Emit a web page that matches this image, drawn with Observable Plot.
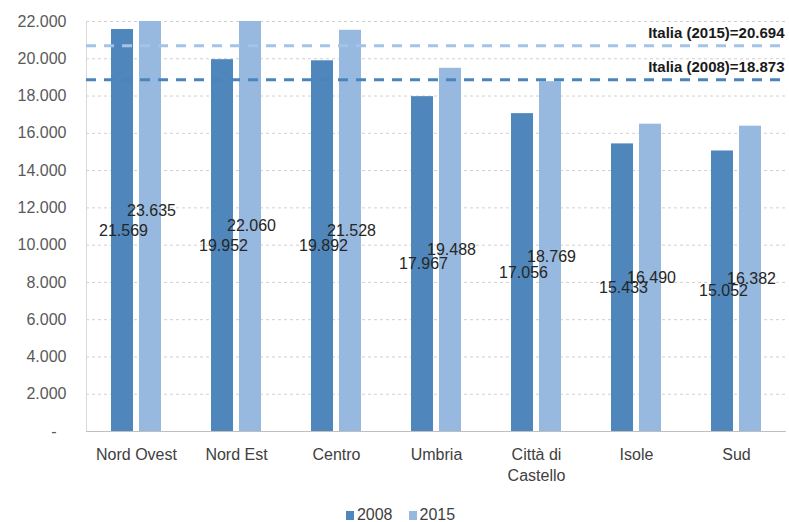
<!DOCTYPE html>
<html>
<head>
<meta charset="utf-8">
<script src="https://cdn.jsdelivr.net/npm/d3@7"></script>
<script src="https://cdn.jsdelivr.net/npm/@observablehq/plot@0.6"></script>
<style>
  html, body { margin: 0; padding: 0; background: #fff; }
  body { width: 789px; height: 522px; overflow: hidden; font-family: "Liberation Sans", sans-serif; }
  #legend { display: flex; justify-content: center; align-items: center; gap: 16px; height: 22px; margin-top: 4px; font-size: 16px; color: #404040; margin-left: 12px; }
  #legend span.sw { display: inline-block; width: 8px; height: 9px; margin-right: 3px; }
  #legend .item { display: flex; align-items: center; }
</style>
</head>
<body>
<div id="chart"></div>
<div id="legend"></div>
<script>
// Reddito medio per area: 2008 e 2015
const areas = ["Nord Ovest", "Nord Est", "Centro", "Umbria", "Città di\nCastello", "Isole", "Sud"];
const values2008 = [21569, 19952, 19892, 17967, 17056, 15433, 15052];
const values2015 = [23635, 22060, 21528, 19488, 18769, 16490, 16382];
const years = ["2008", "2015"];
const italia = [
  {year: "2015", value: 20694, label: "Italia (2015)=20.694"},
  {year: "2008", value: 18873, label: "Italia (2008)=18.873"}
];
const yTicks = [2000, 4000, 6000, 8000, 10000, 12000, 14000, 16000, 18000, 20000, 22000];

const colors = {"2008": "#4f86bb", "2015": "#97b9df"};
const lineColors = {"2008": "#4a84bd", "2015": "#a3c4e8"};

const rows2008 = areas.map((a, i) => ({area: a, value: values2008[i]}));
const rows2015 = areas.map((a, i) => ({area: a, value: values2015[i]}));

const fmt = d3.formatLocale({decimal: ",", thousands: ".", grouping: [3], currency: ["", "€"]}).format(",d");

const font = '"Liberation Sans", sans-serif';

const chart = Plot.plot({
  width: 789,
  height: 500,
  marginTop: 21,
  marginBottom: 69,
  marginLeft: 86,
  marginRight: 3,
  style: {fontFamily: font, background: "#fff"},
  x: {domain: areas, padding: 0, axis: null},
  y: {domain: [0, 22000], axis: null},
  marks: [
    Plot.gridY(yTicks, {stroke: "#d0d0d0", strokeOpacity: 1, strokeDasharray: "3,3"}),
    Plot.frame({anchor: "left", stroke: "#d9d9d9"}),
    Plot.axisY(yTicks, {tickSize: 0, tickPadding: 20, tickFormat: fmt, fontSize: 16, fill: "#595959", label: null}),
    Plot.axisY([0], {tickSize: 0, tickPadding: 30, tickFormat: () => "-", fontSize: 16, fill: "#595959", label: null}),
    Plot.barY(rows2008, {x: "area", y: "value", fill: colors["2008"], insetLeft: 25, insetRight: 53, clip: true}),
    Plot.barY(rows2015, {x: "area", y: "value", fill: colors["2015"], insetLeft: 53, insetRight: 25, clip: true}),
    Plot.ruleY([0], {stroke: "#bfbfbf", strokeWidth: 1.2}),
    Plot.ruleY(italia, {y: "value", stroke: d => lineColors[d.year], strokeWidth: 3, strokeDasharray: "10,8"}),
    Plot.text(italia, {y: "value", text: "label", frameAnchor: "right", textAnchor: "end", dy: -13, dx: -2, fontWeight: "bold", fontSize: 15, fill: "#1a1a1a"}),
    Plot.text(rows2008, {x: "area", y: d => d.value / 2, text: d => fmt(d.value), dx: -13, fontSize: 16, fill: "#262626"}),
    Plot.text(rows2015, {x: "area", y: d => d.value / 2, text: d => fmt(d.value), dx: 15, fontSize: 16, fill: "#262626"}),
    Plot.axisX({anchor: "bottom", tickSize: 0, tickPadding: 14, fontSize: 16, fill: "#404040", lineHeight: 1.3, label: null})
  ]
});
document.getElementById("chart").appendChild(chart);

const legend = document.getElementById("legend");
for (const y of years) {
  const item = document.createElement("div");
  item.className = "item";
  const sw = document.createElement("span");
  sw.className = "sw";
  sw.style.background = colors[y];
  item.appendChild(sw);
  item.appendChild(document.createTextNode(y));
  legend.appendChild(item);
}
</script>
</body>
</html>
